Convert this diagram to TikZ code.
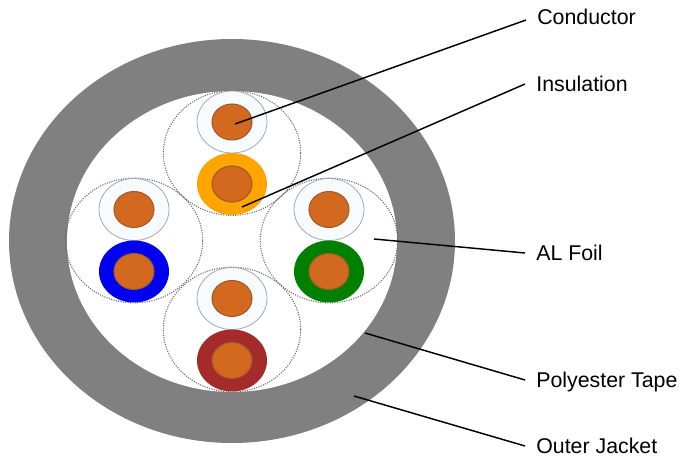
\documentclass[tikz,border=0pt]{standalone}
\usepackage{fontspec}
\setmainfont{Liberation Sans}
\usepackage{tikz}
\usetikzlibrary{shapes.geometric}
\definecolor{jacketgray}{HTML}{808080}
\definecolor{copper}{HTML}{D2691E}
\definecolor{copperedge}{HTML}{A05A30}
\definecolor{foilgray}{HTML}{66676B}
\definecolor{sleeve}{HTML}{A0A9B8}
\definecolor{paleblue}{HTML}{F7FBFE}
\definecolor{wireorange}{HTML}{FFA500}
\definecolor{wireblue}{HTML}{0000F0}
\definecolor{wiregreen}{HTML}{008000}
\definecolor{wirered}{HTML}{A52A2A}
\tikzset{
  round/.style={ellipse,inner sep=0pt,outer sep=0pt},
  jacket/.style={round,fill=jacketgray,minimum width=334.5pt,minimum height=303pt},
  tape/.style={round,fill=white,minimum width=247.5pt,minimum height=225.75pt},
  foil/.style={round,draw=foilgray,line width=0.8pt,densely dotted,minimum width=103pt,minimum height=93.5pt},
  bare/.style={round,draw=sleeve,line width=0.6pt,fill=paleblue,minimum width=52.5pt,minimum height=46.5pt},
  wire/.style={round,minimum width=52.5pt,minimum height=46.5pt},
  core/.style={round,draw=copperedge,line width=0.8pt,fill=copper,minimum width=30pt,minimum height=27pt},
  lab/.style={anchor=west,inner ysep=0pt,inner xsep=8.5pt,outer sep=0pt,text height=11.5pt,text depth=0pt,
    text=black,font=\fontsize{16}{18}\selectfont},
  lead/.style={black,line width=1.1pt}
}
\begin{document}
\begin{tikzpicture}[x=0.75pt,y=-0.75pt]
  \useasboundingbox (0,0) rectangle (682,459);
  % Cable body.
  \node[jacket] (outerjacket) at (232,241) {};
  \node[tape] (polytape) at (232,241.5) {};

  % Four foil-wrapped pairs.
  \foreach \nam/\xx/\yy/\col in {top/232/153/wireorange,left/134/240.5/wireblue,
    right/329/240.5/wiregreen,bot/232/329.5/wirered}{
    \node[foil] (foil\nam) at (\xx,\yy) {};
    \node[bare] (bare\nam) at (\xx,\yy-31) {};
    \node[core] (barecore\nam) at (\xx,\yy-31) {};
    \node[wire,fill=\col] (wire\nam) at (\xx,\yy+31) {};
    \node[core] (wirecore\nam) at (\xx,\yy+31) {};
  }

  % Labels and leaders.
  \node[lab] (conductorlab) at (526,17) {Conductor};
  \node[lab] (insulationlab) at (525,84) {Insulation};
  \node[lab] (foillab) at (525,253) {AL Foil};
  \node[lab] (tapelab) at (525,380) {Polyester Tape};
  \node[lab] (jacketlab) at (525,446) {Outer Jacket};

  \coordinate (conductorpt) at (235,124);
  \coordinate (insulationpt) at (242,207);
  \coordinate (foilpt) at (374,239);
  \coordinate (tapept) at (365,333);
  \coordinate (jacketpt) at (354,396);

  \draw[lead] (conductorpt) -- ([yshift=-2.25pt]conductorlab.west);
  \draw[lead] (insulationpt) -- (insulationlab.west);
  \draw[lead] (foilpt) -- (foillab.west);
  \draw[lead] (tapept) -- (tapelab.west);
  \draw[lead] (jacketpt) -- (jacketlab.west);
\end{tikzpicture}
\end{document}
